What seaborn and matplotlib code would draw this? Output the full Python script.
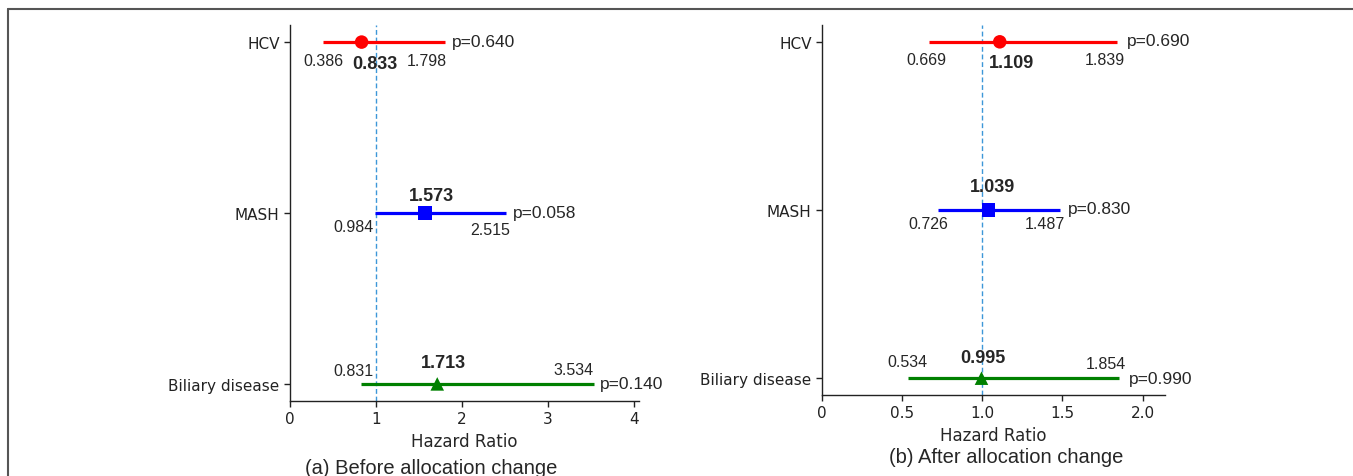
"""
Forest plots of hazard ratios before / after allocation change.
"""

import matplotlib
matplotlib.use("Agg")
import matplotlib.pyplot as plt
import seaborn as sns
import pandas as pd
from matplotlib.lines import Line2D

# ---- data ---------------------------------------------------------------
categories = ["HCV", "MASH", "Biliary disease"]

before_hr = [0.833, 1.573, 1.713]
before_lo = [0.386, 0.984, 0.831]
before_hi = [1.798, 2.515, 3.534]
before_p = ["p=0.640", "p=0.058", "p=0.140"]

after_hr = [1.109, 1.039, 0.995]
after_lo = [0.669, 0.726, 0.534]
after_hi = [1.839, 1.487, 1.854]
after_p = ["p=0.690", "p=0.830", "p=0.990"]

before_ticks = [0, 1, 2, 3, 4]
before_ticklabels = ["0", "1", "2", "3", "4"]
after_ticks = [0, 0.5, 1.0, 1.5, 2.0]
after_ticklabels = ["0", "0.5", "1.0", "1.5", "2.0"]

captions = ["(a) Before allocation change", "(b) After allocation change"]

# ---- style --------------------------------------------------------------
colors = {"HCV": "#ff0000", "MASH": "#0000ff", "Biliary disease": "#008000"}
markers = {"HCV": "o", "MASH": "s", "Biliary disease": "^"}
ANNOT_FONT = "Liberation Sans"

sns.set_style("ticks")
plt.rcParams["font.family"] = ["DejaVu Sans"]

# label offsets in pixels (dx, dy) per row: lo, hr, hi, p
before_offsets = [
    [(0, -18), (13, -21), (-18, -18), (7, 1)],
    [(-21, -14), (6, 17), (-16, -17), (7, 0)],
    [(-8, 13), (6, 21), (-20, 14), (6, 0)],
]
after_offsets = [
    [(-3, -18), (12, -21), (-12, -18), (10, 1)],
    [(-10, -14), (4, 23), (-15, -14), (8, 1)],
    [(0, 17), (1, 21), (-13, 15), (10, 0)],
]

W, H = 1353, 477
fig = plt.figure(figsize=(W / 100, H / 100), dpi=100)


def px_axes(x0, y0, x1, y1):
    return fig.add_axes([x0 / W, 1 - y1 / H, (x1 - x0) / W, (y1 - y0) / H])


def forest(ax, hr, lo, hi, pvals, offsets, ticks, ticklabels, xmax):
    ypos = list(range(len(categories)))[::-1]
    df = pd.DataFrame({"cat": categories, "hr": hr, "lo": lo, "hi": hi, "y": ypos})

    ax.axvline(1, color="#3d97d8", linestyle=(0, (3.5, 2)), linewidth=1.0, zorder=1)
    for _, r in df.iterrows():
        ax.hlines(r["y"], r["lo"], r["hi"], color=colors[r["cat"]], linewidth=2.3, zorder=2)

    sns.scatterplot(
        data=df, x="hr", y="y", hue="cat", style="cat",
        palette=colors, markers=markers, s=95, linewidth=0,
        legend=False, zorder=3, ax=ax,
    )

    for i, r in df.iterrows():
        (dl, dh, dhi, dp) = offsets[i]
        ax.annotate(f"{r['lo']:.3f}", (r["lo"], r["y"]), xytext=dl,
                    textcoords="offset pixels", ha="center", va="center",
                    fontsize=11.5, family=ANNOT_FONT)
        ax.annotate(f"{r['hr']:.3f}", (r["hr"], r["y"]), xytext=dh,
                    textcoords="offset pixels", ha="center", va="center",
                    fontsize=13, fontweight="bold", family=ANNOT_FONT)
        ax.annotate(f"{r['hi']:.3f}", (r["hi"], r["y"]), xytext=dhi,
                    textcoords="offset pixels", ha="center", va="center",
                    fontsize=11.5, family=ANNOT_FONT)
        ax.annotate(pvals[i], (r["hi"], r["y"]), xytext=dp,
                    textcoords="offset pixels", ha="left", va="center",
                    fontsize=12.5, family=ANNOT_FONT)

    ax.set_xlim(0, xmax)
    ax.set_ylim(-0.1, len(categories) - 0.9)
    ax.set_yticks(ypos)
    ax.set_yticklabels(categories, fontsize=11)
    ax.set_xticks(ticks)
    ax.set_xticklabels(ticklabels, fontsize=11)
    ax.set_xlabel("Hazard Ratio", fontsize=12, labelpad=4)
    ax.set_ylabel("")
    sns.despine(ax=ax)
    for s in ["left", "bottom"]:
        ax.spines[s].set_linewidth(1.0)
        ax.spines[s].set_color("#222222")
    ax.tick_params(colors="#222222", width=1.0, length=4)


ax1 = px_axes(290, 26, 639, 402)
forest(ax1, before_hr, before_lo, before_hi, before_p, before_offsets,
       before_ticks, before_ticklabels, 4.06)

ax2 = px_axes(822, 26, 1165, 396)
forest(ax2, after_hr, after_lo, after_hi, after_p, after_offsets,
       after_ticks, after_ticklabels, 2.14)

fig.text(431 / W, 1 - 469 / H, captions[0], ha="center", va="center",
         fontsize=14.5, family=ANNOT_FONT)
fig.text(1006 / W, 1 - 458 / H, captions[1], ha="center", va="center",
         fontsize=14.5, family=ANNOT_FONT)

# page frame (top and left edges)
fig.add_artist(Line2D([8 / W, 1], [1 - 10 / H, 1 - 10 / H], color="#555555", linewidth=1.5))
fig.add_artist(Line2D([8 / W, 8 / W], [0, 1 - 10 / H], color="#555555", linewidth=1.5))

fig.savefig("out.png", dpi=100)
